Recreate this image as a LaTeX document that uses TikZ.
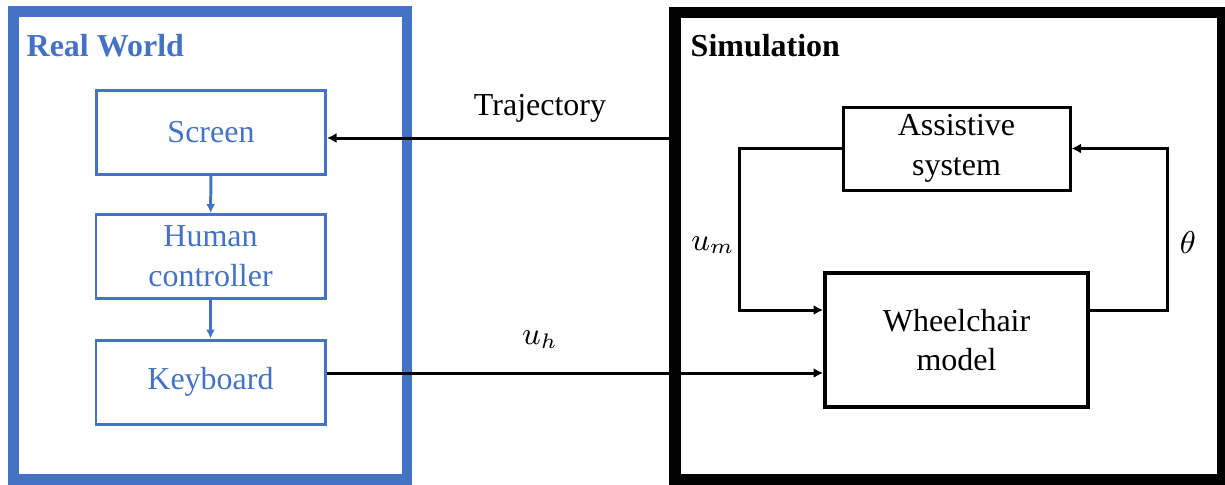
\documentclass[tikz,border=0pt]{standalone}
\usepackage{fontspec}
\setmainfont{Liberation Serif}
\usepackage{tikz}
\usetikzlibrary{arrows.meta,positioning}

\definecolor{rwblue}{HTML}{4472C4}

\tikzset{
  blk/.style={draw, line width=0.85pt, align=center, inner sep=0pt},
  rwblk/.style={blk, draw=rwblue, text=rwblue, minimum width=2.29cm, minimum height=0.84cm},
  arr/.style={line width=0.85pt, -{Latex[length=0.95mm,width=1mm]}},
  rwarr/.style={arr, draw=rwblue, -{Latex[length=0.9mm,width=0.9mm,color=rwblue]}}
}

\begin{document}
\begin{tikzpicture}[font=\fontsize{9.1}{11.3}\selectfont]
\useasboundingbox (0,0) rectangle (12.25,-4.84);

% real world side
\draw[rwblue, line width=2.95pt] (0.135,-0.115) rectangle (4.07,-4.795);
\node[anchor=base west, inner sep=0pt, text=rwblue, font=\fontsize{9.1}{11}\selectfont\bfseries] (realw) at (0.26,-0.565) {Real World};

\node[rwblk] (screen) at (2.11,-1.32) {Screen};
\node[rwblk] (human) at (2.105,-2.565) {Human\\controller};
\node[rwblk] (keyb) at (2.105,-3.82) {Keyboard};

\draw[rwarr] (screen) -- (human);
\draw[rwarr] (human) -- (keyb);

% simulation side
\draw[line width=3.4pt] (6.75,-0.125) rectangle (12.225,-4.80);
\node[anchor=base west, inner sep=0pt, font=\fontsize{9.1}{11}\selectfont\bfseries] (simu) at (6.90,-0.565) {Simulation};

\node[blk, minimum width=2.27cm, minimum height=0.83cm] (assist) at (9.565,-1.485) {Assistive\\system};
\node[blk, line width=1.1pt, minimum width=2.63cm, minimum height=1.34cm] (wheel) at (9.565,-3.40) {Wheelchair\\model};

\draw[arr] (assist.west) -- ++(-1.02,0) |- ([yshift=0.30cm]wheel.west);
\draw[arr] ([yshift=0.30cm]wheel.east) -- ++(0.78,0) |- (assist.east);
\node (um) at (7.13,-2.45) {$u_m$};
\node (theta) at (11.88,-2.43) {$\theta$};

% links between the two
\coordinate (traj) at (6.75,-1.38);
\coordinate (uh) at (6.75,-3.73);
\draw[arr] (traj) -- (traj -| screen.east);
\draw[arr] (uh -| keyb.east) -- (uh -| wheel.west);
\node (trajlbl) at (5.40,-1.08) {Trajectory};
\node (uhlbl) at (5.40,-3.40) {$u_h$};
\end{tikzpicture}
\end{document}
